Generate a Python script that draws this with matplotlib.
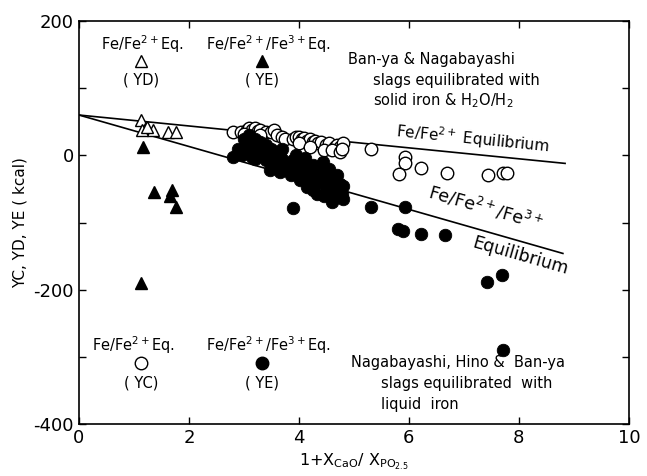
import numpy as np
import matplotlib
matplotlib.use("Agg")
import matplotlib.pyplot as plt

# YD: Fe/Fe2+ equilibrium (open triangles)
yd_x = [1.13, 1.2, 1.35, 1.15, 1.24, 1.62, 1.76]
yd_y = [53, 39, 37, 37, 42, 34, 34]

# YE from triangle series (filled triangles)
yet_x = [1.16, 1.36, 1.69, 1.65, 1.76, 1.12]
yet_y = [12, -54, -52, -61, -77, -190]

# YC: open circles
yc_x = [2.8, 2.95, 3.05, 3.1, 3.15, 3.2, 3.25, 3.3, 3.4, 3.5, 3.55, 3.6, 3.7, 3.75,
        3.0, 3.3, 3.9, 3.95, 4.0, 4.05, 4.1, 4.15, 4.2, 4.25, 4.3, 4.35, 4.4, 4.5,
        4.55, 4.65, 4.7, 4.75, 4.8, 4.0, 4.2, 4.45, 4.6, 4.75, 4.78,
        5.31, 5.93, 5.93, 5.82, 6.22, 6.69, 7.44, 7.71, 7.78]
yc_y = [34, 35, 38, 40, 37, 40, 36, 38, 35, 34, 37, 30, 28, 25,
        32, 30, 25, 28, 27, 24, 26, 22, 25, 20, 22, 18, 20, 15,
        18, 12, 15, 12, 18, 18, 12, 8, 8, 5, 10,
        10, -3, -12, -28, -19, -26, -29, -27, -27]

# YE: filled circles
ye_x = [2.8, 2.96, 3.05, 3.17, 3.29, 3.41, 3.53, 3.47, 3.9, 3.96, 4.02, 4.14,
        4.25, 4.33, 4.56, 4.6, 4.78, 4.75, 4.5, 4.44, 4.11, 3.89,
        3.0, 3.1, 3.2, 3.3, 3.4, 3.5, 3.35, 3.2, 3.6, 3.7, 3.75, 3.8, 3.65,
        3.85, 4.0, 4.1, 4.2, 4.3, 4.4, 4.5, 4.6, 4.7, 4.8, 4.65, 4.45,
        2.9, 3.05, 3.15, 3.25, 3.45, 3.55, 3.6, 3.7, 3.9, 4.05, 4.15, 4.35,
        4.55, 4.7, 4.8, 3.95, 4.25,
        5.31, 5.93, 5.8, 5.89, 6.22, 6.65, 7.42, 7.69, 7.72]
ye_y = [-3, 0, 18, 12, 5, -7, -18, -22, -7, -22, -37, -47,
        -52, -57, -52, -70, -57, -42, -27, -10, -4, -79,
        25, 30, 25, 20, 15, 10, 0, -5, 5, -5, -15, -20, -25,
        -30, -10, -20, -30, -35, -40, -45, -35, -50, -65, -62, -60,
        10, 5, -2, 15, 5, -5, -12, 10, -15, -28, -35, -25,
        -20, -30, -45, 0, -15,
        -77, -77, -110, -113, -117, -119, -189, -178, -290]

# equilibrium lines (end points)
line1_x = [0, 8.84]
line1_y = [60, -12]
line2_x = [0, 8.8]
line2_y = [60, -146]

fig = plt.figure(figsize=(6.47, 4.76), dpi=100)
ax = fig.add_axes([0.122, 0.109, 0.85, 0.847])

ax.plot(line1_x, line1_y, color="black", lw=1.2, zorder=1)
ax.plot(line2_x, line2_y, color="black", lw=1.2, zorder=1)

ms = 9
ax.plot(yc_x, yc_y, "o", ms=ms, mfc="white", mec="black", mew=1.0, zorder=3)
ax.plot(ye_x, ye_y, "o", ms=ms, mfc="black", mec="black", mew=0.6, zorder=4)
ax.plot(yet_x, yet_y, "^", ms=ms, mfc="black", mec="black", zorder=3)
ax.plot(yd_x, yd_y, "^", ms=ms, mfc="white", mec="black", mew=1.0, zorder=4)

fs = 10.5
# legend-like annotations (top)
ax.text(1.15, 165, r"Fe/Fe$^{2+}$Eq.", ha="center", va="center", fontsize=fs)
ax.plot([1.13], [140], "^", ms=ms, mfc="white", mec="black", mew=1.0)
ax.text(1.13, 112, "( YD)", ha="center", va="center", fontsize=fs)
ax.text(3.45, 165, r"Fe/Fe$^{2+}$/Fe$^{3+}$Eq.", ha="center", va="center", fontsize=fs)
ax.plot([3.33], [140], "^", ms=ms, mfc="black", mec="black")
ax.text(3.33, 112, "( YE)", ha="center", va="center", fontsize=fs)

ax.text(4.9, 142, "Ban-ya & Nagabayashi", ha="left", va="center", fontsize=fs)
ax.text(5.35, 112, "slags equilibrated with", ha="left", va="center", fontsize=fs)
ax.text(5.35, 81, r"solid iron & H$_2$O/H$_2$", ha="left", va="center", fontsize=fs)

# legend-like annotations (bottom)
ax.text(1.0, -283, r"Fe/Fe$^{2+}$Eq.", ha="center", va="center", fontsize=fs)
ax.plot([1.13], [-309], "o", ms=ms, mfc="white", mec="black", mew=1.0)
ax.text(1.13, -339, "( YC)", ha="center", va="center", fontsize=fs)
ax.text(3.45, -283, r"Fe/Fe$^{2+}$/Fe$^{3+}$Eq.", ha="center", va="center", fontsize=fs)
ax.plot([3.33], [-309], "o", ms=ms, mfc="black", mec="black")
ax.text(3.33, -339, "( YE)", ha="center", va="center", fontsize=fs)

ax.text(4.95, -309, "Nagabayashi, Hino &  Ban-ya", ha="left", va="center", fontsize=fs)
ax.text(5.5, -340, "slags equilibrated  with", ha="left", va="center", fontsize=fs)
ax.text(5.5, -371, "liquid  iron", ha="left", va="center", fontsize=fs)

# line labels
ax.text(5.75, 20, r"Fe/Fe$^{2+}$ Equilibrium", rotation=-5.7, rotation_mode="anchor",
        ha="left", va="bottom", fontsize=fs + 0.5)
ax.text(6.3, -68, r"Fe/Fe$^{2+}$/Fe$^{3+}$", rotation=-16, rotation_mode="anchor",
        ha="left", va="bottom", fontsize=12.5)
ax.text(7.2, -116, "Equilibrium", rotation=-16, rotation_mode="anchor",
        ha="left", va="top", fontsize=12.5)

ax.set_xlim(0, 10)
ax.set_ylim(-400, 200)
ax.set_xticks([0, 2, 4, 6, 8, 10])
ax.set_yticks([-400, -300, -200, -100, 0, 100, 200])
ax.set_yticklabels(["-400", "", "-200", "", "0", "", "200"])
ax.tick_params(direction="in", length=5, width=1, top=True, right=True, labelsize=13)
for s in ax.spines.values():
    s.set_linewidth(1.2)

ax.set_ylabel("YC, YD, YE ( kcal)", fontsize=11, labelpad=4)
ax.set_xlabel(r"1+X$_{\rm CaO}$/ X$_{\rm PO_{2.5}}$", fontsize=11.5, labelpad=3)

fig.savefig("out.png", dpi=100)
